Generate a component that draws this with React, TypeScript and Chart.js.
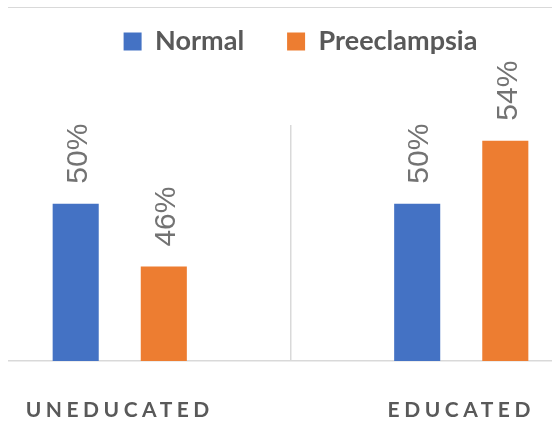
import React, { useEffect, useRef } from 'react';
import { Chart, registerables, CategoryScale } from 'chart.js';

Chart.register(...registerables);

// ---- data ----
const categories = ['UNEDUCATED', 'EDUCATED'];
const seriesNames = ['Normal', 'Preeclampsia'];
const normalValues = [50, 50];
const preeclampsiaValues = [46, 54];
const yMin = 40;
const yMax = 55;

// ---- style ----
const BLUE = '#4472C4';
const ORANGE = '#ED7D31';
const TEXT_DARK = '#595959';
const LABEL_GREY = '#737373';
const GRID = '#d9d9d9';
const LEGEND_BLOCK = 140;

class SpacedCategoryScale extends CategoryScale {
  static id = 'spacedCategory';
  static defaults = CategoryScale.defaults;
  drawLabels(chartArea: any) {
    const ctx: any = this.ctx;
    ctx.save();
    ctx.letterSpacing = '4.5px';
    // @ts-ignore
    super.drawLabels(chartArea);
    ctx.restore();
  }
}
Chart.register(SpacedCategoryScale as any);

const legendSpacer = {
  id: 'legendSpacer',
  beforeLayout(chart: any) {
    const legend = chart.legend;
    if (!legend || legend._spacerPatched) return;
    const orig = legend.fit;
    legend.fit = function () {
      orig.call(this);
      this.height = LEGEND_BLOCK;
    };
    legend._spacerPatched = true;
  },
};

const valueLabels = {
  id: 'valueLabels',
  afterDatasetsDraw(chart: any) {
    const ctx = chart.ctx;
    chart.data.datasets.forEach((ds: any, i: number) => {
      const meta = chart.getDatasetMeta(i);
      meta.data.forEach((el: any, j: number) => {
        const v = ds.data[j];
        ctx.save();
        ctx.translate(el.x + 3, el.y - 20);
        ctx.rotate(-Math.PI / 2);
        ctx.font = '30px "Liberation Sans", Arial, sans-serif';
        ctx.fillStyle = LABEL_GREY;
        ctx.textAlign = 'left';
        ctx.textBaseline = 'middle';
        ctx.fillText(`${v}%`, 0, 0);
        ctx.restore();
      });
    });
  },
};

export default function App() {
  const ref = useRef<HTMLCanvasElement>(null);
  useEffect(() => {
    if (!ref.current) return;
    const chart = new Chart(ref.current, {
      type: 'bar',
      data: {
        labels: categories,
        datasets: [
          {
            label: seriesNames[0],
            data: normalValues,
            backgroundColor: BLUE,
            borderWidth: 0,
            categoryPercentage: 0.516,
            barPercentage: 0.523,
          },
          {
            label: seriesNames[1],
            data: preeclampsiaValues,
            backgroundColor: ORANGE,
            borderWidth: 0,
            categoryPercentage: 0.516,
            barPercentage: 0.523,
          },
        ],
      },
      options: {
        responsive: false,
        animation: false,
        events: [],
        layout: { padding: 0 },
        plugins: {
          legend: {
            position: 'top',
            align: 'center',
            labels: {
              boxWidth: 18,
              boxHeight: 18,
              padding: 43,
              color: TEXT_DARK,
              font: { family: 'Lato', weight: 'bold', size: 27 },
            },
          },
          tooltip: { enabled: false },
          title: { display: false },
        },
        scales: {
          x: {
            type: 'spacedCategory' as any,
            position: 'bottom',
            offset: true,
            grid: {
              display: true,
              offset: true,
              color: GRID,
              lineWidth: 1.5,
              drawTicks: false,
            },
            border: { display: true, color: GRID, width: 1.5 },
            ticks: {
              color: TEXT_DARK,
              font: { family: 'Lato', weight: 'bold', size: 21 },
              padding: 37,
              maxRotation: 0,
              autoSkip: false,
            },
            afterFit(s: any) {
              s.height = 100;
            },
          },
          y: {
            position: 'right',
            min: yMin,
            max: yMax,
            grid: { display: false },
            border: { display: false },
            ticks: { display: false },
            afterFit(s: any) {
              s.width = 20;
            },
          },
        },
      } as any,
      plugins: [legendSpacer, valueLabels],
    });
    return () => chart.destroy();
  }, []);

  return (
    <div
      style={{
        position: 'absolute',
        left: 8,
        top: 7,
        width: 544,
        height: 413,
        overflow: 'hidden',
        borderTop: `1px solid ${GRID}`,
        background: '#fff',
      }}
    >
      <canvas
        ref={ref}
        width={703}
        height={476}
        style={{ position: 'absolute', left: -59, top: -23, width: 703, height: 476 }}
      />
    </div>
  );
}
